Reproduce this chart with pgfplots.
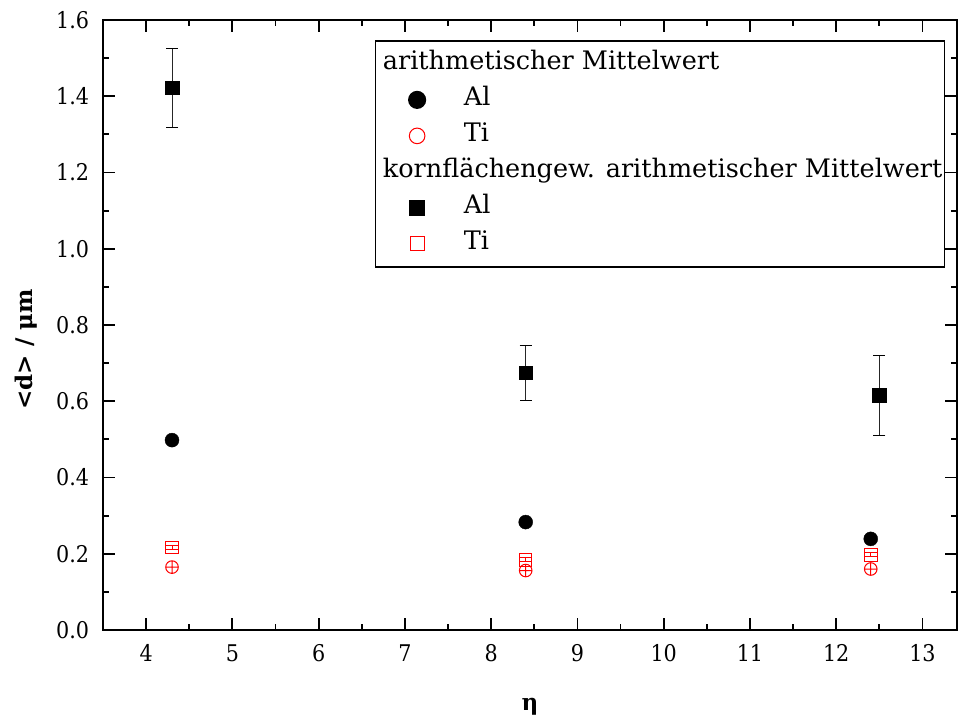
\documentclass[border=0pt]{standalone}
\usepackage{fontspec}
\setmainfont{DejaVu Serif}
\newfontfamily\tickfont{DejaVu Serif Condensed}
\usepackage{pgfplots}
\pgfplotsset{compat=1.18}
\usetikzlibrary{calc}
\begin{document}
\fontsize{23}{27}\selectfont
\begin{tikzpicture}
\begin{axis}[
  scale only axis, width=854pt, height=610pt,
  xmin=3.5, xmax=13.4, ymin=0, ymax=1.6,
  xtick={4,5,...,13}, ytick={0,0.2,...,1.6},
  minor x tick num=1, minor y tick num=1,
  tick align=inside,
  major tick length=12pt, minor tick length=6pt,
  every tick/.style={black, line width=1.8pt},
  axis line style={line width=2pt},
  /pgf/number format/assume math mode=true,
  ticklabel style={font=\tickfont},
  yticklabel style={/pgf/number format/fixed, /pgf/number format/precision=1, /pgf/number format/fixed zerofill, xshift=-6pt},
  xticklabel style={/pgf/number format/fixed, yshift=-7pt},
  xlabel={\textbf{η}}, ylabel={\textbf{<d> / μm}},
  every axis y label/.style={at={(rel axis cs:0,0.46)}, rotate=90, anchor=center, yshift=77pt},
  every axis x label/.style={at={(rel axis cs:0.5,0)}, anchor=center, yshift=-77pt},
  mylegend/.style={only marks, legend image code/.code={\path (0pt,0pt) (78pt,0pt); \draw[mark repeat=2,mark phase=2,##1] plot coordinates {(0pt,0pt)(39pt,0pt)(78pt,0pt)};}},
  legend style={at={(rel axis cs:0.986,0.967)}, anchor=north east, draw=black, line width=1.5pt,
    inner xsep=2pt, inner ysep=12pt, row sep=14pt, column sep=7pt,
    font=\fontsize{25.5}{30}\selectfont,
    nodes={inner sep=0pt, text height=17pt, text depth=5pt}},
  legend cell align=left,
]
\addlegendimage{empty legend}
\addlegendentry{\hspace*{-81pt}arithmetischer Mittelwert}
\addlegendimage{mylegend, black, mark=*, mark size=8.3pt}
\addlegendentry{Al}
\addlegendimage{mylegend, red, mark=o, mark size=7.8pt, line width=1pt}
\addlegendentry{Ti}
\addlegendimage{empty legend}
\addlegendentry{\hspace*{-81pt}kornflächengew. arithmetischer Mittelwert}
\addlegendimage{mylegend, black, mark=square*, mark size=7.4pt}
\addlegendentry{Al}
\addlegendimage{mylegend, red, mark=square, mark size=7pt, line width=1pt}
\addlegendentry{Ti}

% Al, arithmetic mean
\addplot[forget plot, only marks, black, mark=*, mark size=7pt] coordinates {(4.3,0.498) (8.4,0.283) (12.4,0.239)};
% Al, area-weighted mean with error bars
\addplot[forget plot, only marks, black, mark=square*, mark size=6.7pt,
  error bars/.cd, y dir=both, y explicit, error mark=|,
  error bar style={line width=0.9pt, draw=black!85},
  error mark options={draw=black, mark size=6pt, line width=1pt}]
  table[x=x, y=y, y error=e] {
x y e
4.3 1.422 0.104
8.4 0.675 0.072
12.5 0.616 0.105
};
% Ti, area-weighted mean
\addplot[forget plot, only marks, red, mark=square, mark size=6.3pt, line width=1pt,
  error bars/.cd, y dir=both, y explicit, error mark=|,
  error bar style={line width=1pt, red},
  error mark options={red, mark size=6.3pt, line width=1pt}]
  table[x=x, y=y, y error=e] {
x y e
4.3 0.216 0.005
8.4 0.184 0.005
12.4 0.197 0.005
};
% Ti, arithmetic mean
\addplot[forget plot, only marks, red, mark=oplus, mark size=6.3pt, line width=1pt] coordinates {(4.3,0.165) (8.4,0.156) (12.4,0.160)};
\end{axis}
\pgfresetboundingbox
\path[use as bounding box] ($(current axis.south west)+(-103pt,-87pt)$) rectangle ($(current axis.north east)+(1pt,20pt)$);
\end{tikzpicture}
\end{document}
